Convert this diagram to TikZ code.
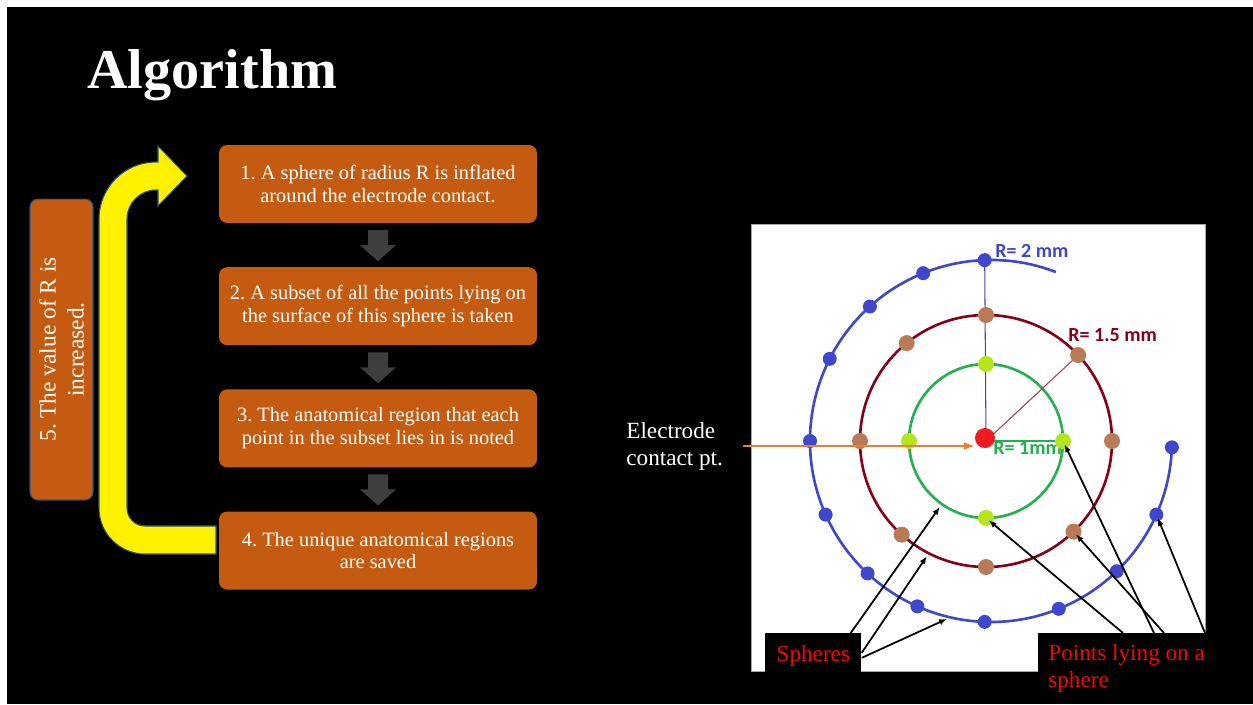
\documentclass[tikz,border=0pt]{standalone}
\usepackage{fontspec}
\setmainfont{Liberation Serif}
\newfontfamily\labelfont{Carlito}
\usepackage{xcolor}
\usetikzlibrary{arrows.meta,positioning,calc}
\frenchspacing

\definecolor{boxorange}{RGB}{197,90,17}
\definecolor{edgeblue}{RGB}{47,82,143}
\definecolor{arrgray}{RGB}{62,62,62}
\definecolor{ringblue}{RGB}{63,72,204}
\definecolor{ringred}{RGB}{136,0,21}
\definecolor{ringgreen}{RGB}{34,177,76}
\definecolor{dotbrown}{RGB}{185,122,87}
\definecolor{dotlime}{RGB}{181,230,29}
\definecolor{dotred}{RGB}{237,28,36}
\definecolor{pointer}{RGB}{237,125,49}

\begin{document}
\begin{tikzpicture}[x=0.02cm, y=-0.02cm,
  stepbox/.style={rectangle, rounded corners=0.16cm, fill=boxorange, text=white, minimum width=6.36cm, minimum height=1.56cm, align=center, font=\fontsize{11.6}{13}\selectfont},
  loopbox/.style={rectangle, rounded corners=0.16cm, fill=boxorange, draw=edgeblue, line width=0.6pt, text=white, minimum width=6.02cm, minimum height=1.26cm, align=center, font=\fontsize{13.3}{15.9}\selectfont},
  uturn/.style={fill=yellow, draw=edgeblue, line width=0.6pt},
  ring/.style={line width=1.5pt},
  radline/.style={line width=0.6pt},
  rlabel/.style={anchor=west, inner sep=0, font=\labelfont\bfseries\fontsize{11.4}{13}\selectfont},
  tagbox/.style={fill=black, text=red, inner xsep=0.2cm, inner ysep=0.22cm, align=left, font=\fontsize{13.2}{15.3}\selectfont},
  callout/.style={line width=1pt, -{Latex[length=4.5pt, width=3.5pt]}, shorten >=2pt},
  dnarrow/.pic={\fill[arrgray] (-10,-15) -- (10,-15) -- (10,0) -- (18,0) -- (0,16) -- (-18,0) -- (-10,0) -- cycle;}
]
\useasboundingbox (0,0) rectangle (1253,704);
\fill[white] (0,0) rectangle (1253,704);
\fill[black] (7,7) rectangle (1253,704);

% Title
\node[anchor=base west, inner sep=0, text=white, font=\fontsize{32}{36}\selectfont\bfseries] (title) at (87,88) {Algorithm};

% Steps
\node[stepbox] (b1) at (378,184) {1. A sphere of radius R is inflated\\around the electrode contact.};
\node[stepbox, below=0.87cm of b1] (b2) {2. A subset of all the points lying on\\the surface of this sphere is taken};
\node[stepbox, below=0.87cm of b2] (b3) {3. The anatomical region that each\\point in the subset lies in is noted};
\node[stepbox, below=0.87cm of b3] (b4) {4. The unique anatomical regions\\are saved};

\pic at ($(b1.south)!0.5!(b2.north)$) {dnarrow};
\pic at ($(b2.south)!0.5!(b3.north)$) {dnarrow};
\pic at ($(b3.south)!0.5!(b4.north)$) {dnarrow};

% Loop back
\node[loopbox, rotate=90] (b5) at (61.5,349.5) {5. The value of R is\\increased.};
\draw[uturn] (216,526) -- (145,526)
  arc[start angle=90, end angle=180, radius=18]
  -- (127,219)
  arc[start angle=180, end angle=270, radius=29]
  -- (158,190) -- (158,206) -- (187,176) -- (158,146) -- (158,162) -- (156,162)
  arc[start angle=270, end angle=180, radius=57]
  -- (99,508)
  arc[start angle=180, end angle=90, radius=46]
  -- (216,554) -- cycle;

% Sketch of the spheres
\draw[gray!70, line width=0.5pt, fill=white] (751,224) rectangle (1205,671);

\begin{scope}[shift={(986,441)}, yscale=-1]
  \coordinate (ctr) at (0,0);
  \draw[ring, ringgreen] (ctr) circle[radius=77];
  \draw[ring, ringred] (ctr) circle[radius=126];
  \draw[ring, ringblue] ({5+181*cos(69)},{181*sin(69)}) arc[start angle=69, end angle=358, radius=181];

  \foreach \a [count=\i] in {0,90,180,270}
    \coordinate (g\i) at (\a:77);
  \foreach \a [count=\i] in {0,43,90,129,180,228,270,314}
    \coordinate (r\i) at (\a:126);
  \foreach \a [count=\i] in {92,112,132,153,180,204,227,246,268,292,314,336,358}
    \coordinate (u\i) at ({5+181*cos(\a)},{181*sin(\a)});

  \coordinate (sg) at (235:77);
  \coordinate (sr) at (243:126);
  \coordinate (sb) at ({5+181*cos(257)},{181*sin(257)});

  \draw[radline, ringblue] (ctr) -- (u1);
  \draw[radline, ringred!75] (ctr) -- (r2);
  \draw[radline, ringgreen] (ctr) -- (g1);
\end{scope}

\node[rlabel, text=ringblue] (l2) at (995,251) {R= 2 mm};
\node[rlabel, text=ringred] (l15) at (1068,335) {R= 1.5 mm};
\node[rlabel, text=ringgreen] (l1) at (993,448) {R= 1mm};

\foreach \i in {1,...,13}
  \fill[ringblue] (u\i) circle[radius=7];
\foreach \i in {1,...,8}
  \fill[dotbrown] (r\i) circle[radius=8];
\foreach \i in {1,...,4}
  \fill[dotlime] (g\i) circle[radius=8];
\node[circle, fill=dotred, minimum size=0.4cm, inner sep=0] (red) at (985,438) {};

% Electrode contact
\node[anchor=west, inner sep=0, align=left, text=white, font=\fontsize{13.2}{15.3}\selectfont] (elec) at (626,446) {Electrode\\contact pt.};
\draw[pointer, line width=1pt, -{Latex[length=6pt, width=4.5pt]}] (elec.east) ++(20,0) -- (elec.east -| red.west);

% Callouts
\node[tagbox, anchor=north west, minimum width=1.92cm, minimum height=0.9cm, align=center] (sph) at (765,633) {Spheres};
\node[tagbox, anchor=north west] (pts) at (1038,633) {Points lying on a\\sphere};

\draw[callout] ($(sph.north east)+(-11,0)$) -- (sg);
\draw[callout] ($(sph.east)+(0,-3)$) -- (sr);
\draw[callout] ($(sph.east)+(0,2)$) -- (sb);
\draw[callout] ($(pts.north west)+(85,0)$) -- (g4);
\draw[callout] ($(pts.north west)+(116,0)$) -- (g1);
\draw[callout] ($(pts.north west)+(126,0)$) -- (r8);
\draw[callout] ($(pts.north west)+(167,0)$) -- (u12);

\end{tikzpicture}
\end{document}
